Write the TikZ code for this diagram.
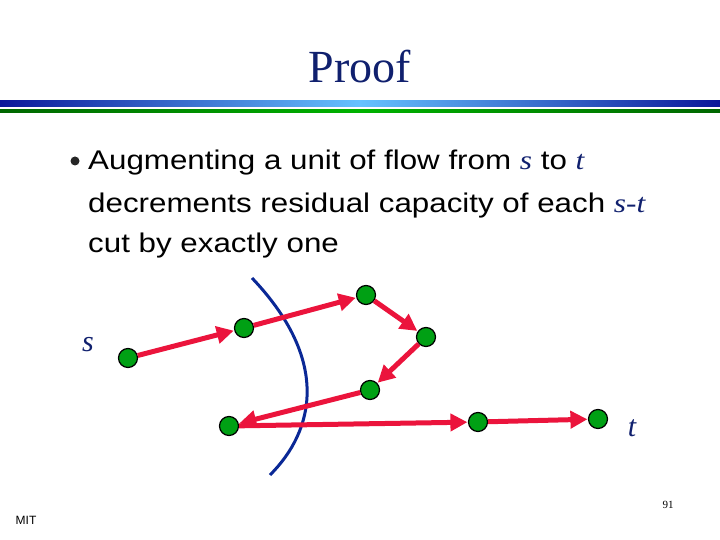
\documentclass[tikz,border=0pt]{standalone}
\usepackage{fontspec}
\setmainfont{Liberation Serif}
\setsansfont{Liberation Sans}
\newfontfamily\widesans[FakeStretch=1.16]{Liberation Sans}
\newfontfamily\wideserif[FakeStretch=1.16]{Liberation Serif}
\usetikzlibrary{arrows.meta}
\definecolor{navy}{RGB}{16,32,110}
\definecolor{flowred}{RGB}{235,20,60}
\definecolor{nodegreen}{RGB}{0,160,20}
\definecolor{cutblue}{RGB}{10,40,150}
\tikzset{
  vtx/.style={circle,draw=black,line width=1.2pt,fill=nodegreen,minimum size=19pt,inner sep=0pt},
  flow/.style={draw=flowred,line width=5pt,-{Triangle[length=17pt,width=17pt]},shorten >=0.5pt},
  body/.style={font=\widesans\fontsize{27}{30}\selectfont,anchor=base west,inner sep=0pt}
}
\newcommand{\mvar}[1]{\textcolor{navy}{\wideserif\itshape #1}}
\begin{document}
\begin{tikzpicture}[x=1pt,y=-1pt]
\useasboundingbox (0,0) rectangle (720,540);
\shade[left color=navy!70!blue,right color=navy!70!blue,middle color=blue!40!cyan!60!white] (0,101) rectangle (720,107);
\shade[left color=green!40!black,right color=green!40!black,middle color=green!70!black] (0,110) rectangle (720,113);
\node[text=navy,font=\fontsize{46}{50}\selectfont] (title) at (360,67) {Proof};
\node[circle,fill=black!85,minimum size=9pt,inner sep=0pt] (bul) at (75,161) {};
\node[body] (l1) at (88,170) {Augmenting a unit of flow from \mvar{s} to \mvar{t}};
\node[body] (l2) at (88,212) {decrements residual capacity of each \mvar{s-t}};
\node[body] (l3) at (88,252) {cut by exactly one};
\draw[cutblue,line width=3pt] (252,278) .. controls (330,360) and (315,430) .. (270,475);
\node[vtx] (s) at (128,358) {};
\node[vtx] (a) at (244,328) {};
\node[vtx] (b) at (366,295) {};
\node[vtx] (c) at (426,337) {};
\node[vtx] (d) at (370,390) {};
\node[vtx] (e) at (229,426) {};
\node[vtx] (f) at (478,422) {};
\node[vtx] (t) at (598,419) {};
\draw[flow] (s) -- (a);
\draw[flow] (a) -- (b);
\draw[flow] (b) -- (c);
\draw[flow] (c) -- (d);
\draw[flow] (d) -- (e);
\draw[flow] (e) -- (f);
\draw[flow] (f) -- (t);
\node[text=navy,font=\itshape\fontsize{30}{34}\selectfont] (sl) at (88,345) {s};
\node[text=navy,font=\itshape\fontsize{30}{34}\selectfont] (tl) at (632,428) {t};
\node[font=\fontsize{11}{12}\selectfont] (pg) at (668,505) {91};
\node[font=\sffamily\fontsize{12}{14}\selectfont] (mit) at (26,520) {MIT};
\end{tikzpicture}
\end{document}
